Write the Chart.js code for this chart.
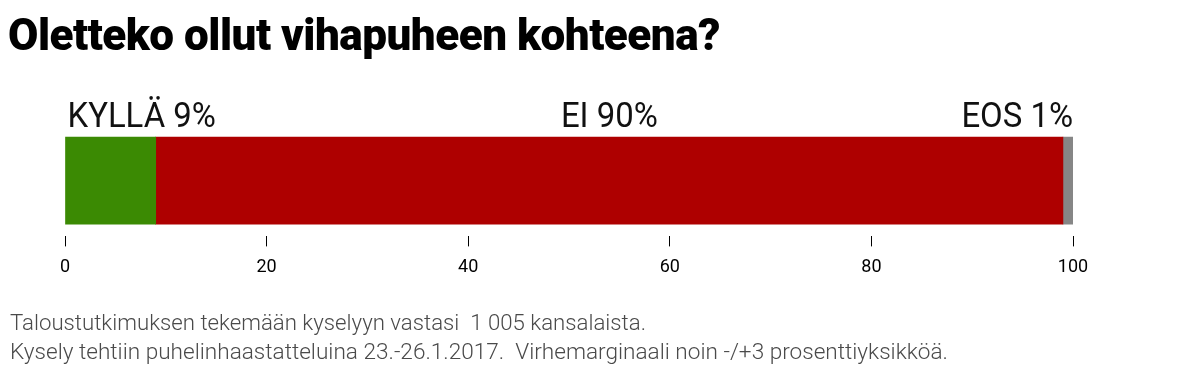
<!DOCTYPE html>
<html><head><meta charset="utf-8">
<script src="https://cdn.jsdelivr.net/npm/chart.js@4.4.1/dist/chart.umd.min.js"></script>
<style>
html,body{margin:0;padding:0;background:#fff;width:1196px;height:374px;overflow:hidden;position:relative}
#title{position:absolute;left:8px;top:8px;font-family:Roboto;font-weight:900;font-size:45px;color:#000;white-space:nowrap;transform-origin:0 0;letter-spacing:-0.5px}
.note{position:absolute;left:10px;font-family:Roboto;font-weight:300;font-size:22px;color:#4a4a4a;white-space:nowrap;transform-origin:0 0}
#wrap{position:absolute;left:0;top:0;width:1196px;height:374px}
</style></head>
<body>
<div id="wrap"><canvas id="c"></canvas></div>
<div id="title">Oletteko ollut vihapuheen kohteena?</div>
<div class="note" id="n1" style="top:310px">Taloustutkimuksen tekemään kyselyyn vastasi&nbsp; 1 005 kansalaista.</div>
<div class="note" id="n2" style="top:339px">Kysely tehtiin puhelinhaastatteluina 23.-26.1.2017.&nbsp; Virhemarginaali noin -/+3 prosenttiyksikköä.</div>
<script>
const categories = ["Oletteko ollut vihapuheen kohteena?"];
const seriesNames = ["KYLLÄ", "EI", "EOS"];
const kylla = [9];
const ei = [90];
const eos = [1];
const tickValues = [0, 20, 40, 60, 80, 100];
const colors = ["#3b8a03", "#ae0000", "#868686"];

function fit(id, w){const el=document.getElementById(id);const r=el.getBoundingClientRect().width;el.style.transform='scaleX('+(w/r)+')';}
fit('title', 712); fit('n1', 636); fit('n2', 938);

const labelPlugin = {
  id:'segLabels',
  afterDatasetsDraw(chart){
    const ctx=chart.ctx;
    const sx=0.94;
    ctx.save();
    ctx.font='35px Roboto';
    ctx.fillStyle='#111';
    ctx.textBaseline='alphabetic';
    const vals=[kylla[0],ei[0],eos[0]];
    chart.data.datasets.forEach((ds,i)=>{
      const el=chart.getDatasetMeta(i).data[0];
      const top=el.y-el.height/2;
      const txt=seriesNames[i]+' '+vals[i]+'%';
      let x;
      if(i===0){ctx.textAlign='left';x=el.base+2;}
      else if(i===1){ctx.textAlign='center';x=(el.base+el.x)/2;}
      else {ctx.textAlign='right';x=el.x;}
      ctx.save();
      ctx.translate(x,top-10);
      ctx.scale(sx,1);
      ctx.fillText(txt,0,0);
      ctx.restore();
    });
    ctx.restore();
  }
};

new Chart(document.getElementById('c'),{
  type:'bar',
  data:{labels:categories,datasets:[
    {label:seriesNames[0],data:kylla,backgroundColor:colors[0],barThickness:87},
    {label:seriesNames[1],data:ei,backgroundColor:colors[1],barThickness:87},
    {label:seriesNames[2],data:eos,backgroundColor:colors[2],barThickness:87}
  ]},
  options:{
    indexAxis:'y',responsive:true,maintainAspectRatio:false,animation:false,
    layout:{padding:{left:65,right:123,top:125,bottom:86}},
    plugins:{legend:{display:false},tooltip:{enabled:false},title:{display:false}},
    scales:{
      x:{stacked:true,min:0,max:100,
        afterBuildTicks(s){s.ticks=tickValues.map(v=>({value:v}));},
        grid:{drawOnChartArea:false,drawTicks:true,tickLength:10,color:'#000',tickWidth:1},
        border:{display:false},
        ticks:{color:'#000',font:{family:'Roboto',size:18},padding:10,maxRotation:0}
      },
      y:{stacked:true,display:false}
    }
  },
  plugins:[labelPlugin]
});
</script>
</body></html>
